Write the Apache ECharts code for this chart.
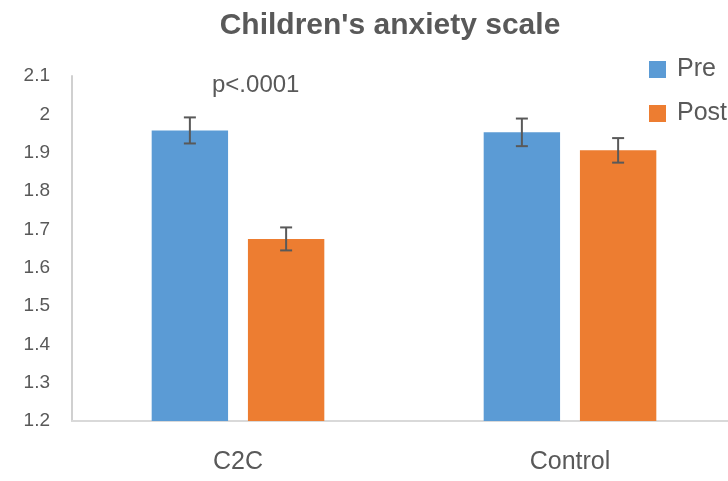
<!DOCTYPE html>
<html>
<head>
<meta charset="utf-8">
<style>
  html, body { margin: 0; padding: 0; background: #fff; }
  #chart { width: 728px; height: 481px; }
</style>
<script src="https://cdn.jsdelivr.net/npm/echarts@6/dist/echarts.min.js"></script>
</head>
<body>
<div id="chart"></div>
<script>
const categories = ['C2C', 'Control'];
const preMean = [1.958, 1.953];
const postMean = [1.675, 1.906];
const preErr = [0.034, 0.036];
const postErr = [0.030, 0.032];
const yTicks = [1.2, 2.1, 0.1]; // min, max, step

const chart = echarts.init(document.getElementById('chart'));

const textColor = '#595959';
const fontFamily = 'Liberation Sans, Arial, sans-serif';
const catGap = 0.48;
const barGapRatio = 0.26;

// error bar rows: [category index, low, high, side (-1 pre, 1 post)]
function errRows(means, errs, side) {
  return means.map((m, i) => [i, m - errs[i], m + errs[i], side]);
}

function renderErrorBar(params, api) {
  const catWidth = api.size([1, 0])[0];
  const barWidth = (catWidth * (1 - catGap)) / (2 + barGapRatio);
  const offset = api.value(3) * barWidth * (0.5 + barGapRatio / 2);
  const low = api.coord([api.value(0), api.value(1)]);
  const high = api.coord([api.value(0), api.value(2)]);
  const x = low[0] + offset;
  const cap = 6;
  const style = { stroke: '#595959', lineWidth: 2, fill: null };
  return {
    type: 'group',
    children: [
      { type: 'line', shape: { x1: x, y1: low[1], x2: x, y2: high[1] }, style },
      { type: 'line', shape: { x1: x - cap, y1: low[1], x2: x + cap, y2: low[1] }, style },
      { type: 'line', shape: { x1: x - cap, y1: high[1], x2: x + cap, y2: high[1] }, style },
    ],
  };
}

const option = {
  animation: false,
  textStyle: { fontFamily },
  title: {
    text: "Children's anxiety scale",
    left: 385,
    textAlign: 'center',
    top: 6,
    textStyle: { fontSize: 30, fontWeight: 'bold', color: textColor, fontFamily },
  },
  legend: {
    orient: 'vertical',
    left: 649,
    top: 57,
    padding: 0,
    itemWidth: 17,
    itemHeight: 17,
    itemGap: 19,
    icon: 'rect',
    data: ['Pre', 'Post'],
    textStyle: { fontSize: 25, color: textColor, padding: [0, 0, 0, 6] },
  },
  graphic: [
    {
      type: 'text',
      left: 212,
      top: 73,
      style: { text: 'p<.0001', fontSize: 24, fill: textColor, fontFamily },
    },
  ],
  grid: { left: 72, top: 76, width: 664, height: 345, outerBoundsMode: 'none' },
  xAxis: {
    type: 'category',
    data: categories,
    axisLine: { lineStyle: { color: '#d9d9d9', width: 2 } },
    axisTick: { show: false },
    axisLabel: { fontSize: 25, color: textColor, margin: 29 },
  },
  yAxis: {
    type: 'value',
    min: yTicks[0],
    max: yTicks[1],
    interval: yTicks[2],
    axisLine: { show: true, lineStyle: { color: '#d0d0d0', width: 2 } },
    axisTick: { show: false },
    splitLine: { show: false },
    axisLabel: {
      fontSize: 19,
      color: textColor,
      margin: 22,
      formatter: (v) => String(Math.round(v * 10) / 10),
    },
  },
  series: [
    {
      name: 'Pre',
      type: 'bar',
      data: preMean,
      barCategoryGap: catGap * 100 + '%',
      barGap: barGapRatio * 100 + '%',
      itemStyle: { color: '#5B9BD5' },
    },
    {
      name: 'Post',
      type: 'bar',
      data: postMean,
      barCategoryGap: catGap * 100 + '%',
      barGap: barGapRatio * 100 + '%',
      itemStyle: { color: '#ED7D31' },
    },
    {
      type: 'custom',
      renderItem: renderErrorBar,
      data: errRows(preMean, preErr, -1).concat(errRows(postMean, postErr, 1)),
      encode: { x: 0, y: [1, 2] },
      z: 10,
    },
  ],
};

chart.setOption(option);

window.addEventListener('resize', () => {
  chart.resize();
});
</script>
</body>
</html>
